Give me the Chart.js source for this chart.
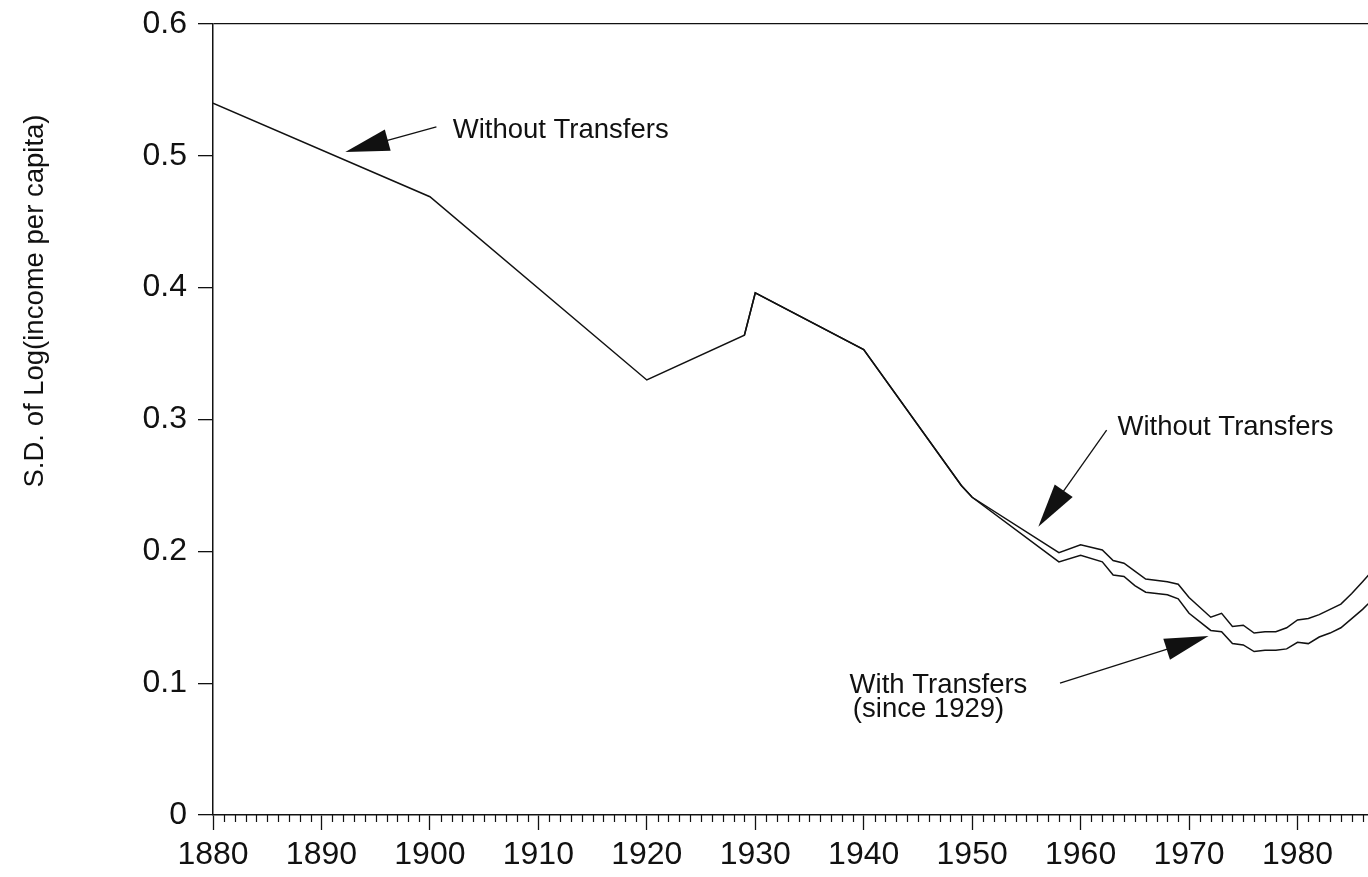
<!DOCTYPE html>
<html>
<head>
<meta charset="utf-8">
<title>S.D. of Log(income per capita)</title>
<script src="https://cdn.jsdelivr.net/npm/chart.js@4.4.1/dist/chart.umd.min.js"></script>
<style>
  html, body { margin: 0; padding: 0; background: #fff; overflow: hidden; }
  #wrap { width: 1368px; height: 877px; }
</style>
</head>
<body>
<div id="wrap"><canvas id="chart" width="1368" height="877"></canvas></div>
<script>
// values
const withoutYears = [1880, 1900, 1920, 1929, 1930, 1940, 1949, 1950, 1958, 1960, 1962, 1963, 1964, 1965, 1966, 1968, 1969, 1970, 1972, 1973, 1974, 1975, 1976, 1977, 1978, 1979, 1980, 1981, 1982, 1983, 1984, 1985, 1986, 1987];
const withoutValues = [0.540, 0.469, 0.330, 0.364, 0.396, 0.353, 0.250, 0.241, 0.199, 0.205, 0.201, 0.193, 0.191, 0.185, 0.179, 0.177, 0.175, 0.165, 0.150, 0.153, 0.143, 0.144, 0.138, 0.139, 0.139, 0.142, 0.148, 0.149, 0.152, 0.156, 0.160, 0.168, 0.177, 0.186];
const withYears = [1929, 1930, 1940, 1949, 1950, 1958, 1960, 1962, 1963, 1964, 1965, 1966, 1968, 1969, 1970, 1972, 1973, 1974, 1975, 1976, 1977, 1978, 1979, 1980, 1981, 1982, 1983, 1984, 1985, 1986, 1987];
const withValues = [0.364, 0.396, 0.353, 0.250, 0.241, 0.192, 0.197, 0.192, 0.182, 0.181, 0.174, 0.169, 0.167, 0.164, 0.153, 0.140, 0.139, 0.130, 0.129, 0.124, 0.125, 0.125, 0.126, 0.131, 0.130, 0.135, 0.138, 0.142, 0.149, 0.156, 0.164];
const yTicks = [0, 0.1, 0.2, 0.3, 0.4, 0.5, 0.6];
const xLabelYears = [1880, 1890, 1900, 1910, 1920, 1930, 1940, 1950, 1960, 1970, 1980];

const yTitle = "S.D. of Log(income per capita)";
const notes = [
  { text: "Without Transfers", year: 1902.1, value: 0.5135 },
  { text: "Without Transfers", year: 1963.4, value: 0.2883 },
  { text: "With Transfers", year: 1938.7, value: 0.0925 },
  { text: "(since 1929)", year: 1939.0, value: 0.0745 },
];
const arrows = [
  { tipYear: 1892.2, tipValue: 0.503, tailYear: 1900.6, tailValue: 0.522 },
  { tipYear: 1956.1, tipValue: 0.2187, tailYear: 1962.4, tailValue: 0.292 },
  { tipYear: 1971.8, tipValue: 0.1358, tailYear: 1958.1, tailValue: 0.100 },
];

(function () {
  const INK = "#111";
  const FONT = '"Liberation Sans", Arial, Helvetica, sans-serif';

  function points(years, values) {
    return years.map((year, i) => ({ x: year, y: values[i] }));
  }

  function drawArrow(ctx, x0, y0, x1, y1) {
    // x0,y0 tip; x1,y1 tail end
    const len = Math.hypot(x1 - x0, y1 - y0);
    const ux = (x1 - x0) / len, uy = (y1 - y0) / len;
    const head = 44, half = 11;
    const bx = x0 + ux * head, by = y0 + uy * head;
    ctx.beginPath();
    ctx.moveTo(bx - ux * 4, by - uy * 4);
    ctx.lineTo(x1, y1);
    ctx.lineWidth = 1.3;
    ctx.stroke();
    ctx.beginPath();
    ctx.moveTo(x0, y0);
    ctx.lineTo(bx - uy * half, by + ux * half);
    ctx.lineTo(bx + uy * half, by - ux * half);
    ctx.closePath();
    ctx.fill();
  }

  const extras = {
    id: "extras",
    afterDraw(chart) {
      const { ctx, chartArea, scales: { x, y } } = chart;
      ctx.save();
      ctx.strokeStyle = INK;
      ctx.fillStyle = INK;

      // yearly minor ticks on the x axis
      ctx.lineWidth = 1.2;
      ctx.beginPath();
      for (let yr = 1881; yr <= x.max; yr++) {
        if (yr % 10 === 0) continue;
        const px = Math.round(x.getPixelForValue(yr)) + 0.5;
        ctx.moveTo(px, chartArea.bottom);
        ctx.lineTo(px, chartArea.bottom + 7);
      }
      ctx.stroke();

      ctx.font = "27.5px " + FONT;
      ctx.textAlign = "left";
      ctx.textBaseline = "alphabetic";
      notes.forEach((n) => ctx.fillText(n.text, x.getPixelForValue(n.year), y.getPixelForValue(n.value)));
      arrows.forEach((a) => drawArrow(ctx,
        x.getPixelForValue(a.tipYear), y.getPixelForValue(a.tipValue),
        x.getPixelForValue(a.tailYear), y.getPixelForValue(a.tailValue)));

      ctx.translate(35, 301);
      ctx.rotate(-Math.PI / 2);
      ctx.textAlign = "center";
      ctx.textBaseline = "middle";
      ctx.fillText(yTitle, 0, 0);
      ctx.restore();
    },
  };

  const line = (label, data) => ({
    label,
    data,
    borderColor: INK,
    borderWidth: 1.5,
    pointRadius: 0,
    tension: 0,
    fill: false,
  });

  new Chart(document.getElementById("chart"), {
    type: "line",
    data: {
      datasets: [
        line("Without Transfers", points(withoutYears, withoutValues)),
        line("With Transfers", points(withYears, withValues)),
      ],
    },
    options: {
      responsive: false,
      animation: false,
      layout: { padding: { top: 24, right: 0, left: 0, bottom: 0 } },
      plugins: { legend: { display: false }, tooltip: { enabled: false } },
      scales: {
        x: {
          type: "linear",
          min: 1880,
          max: 1986.5,
          afterBuildTicks: (s) => { s.ticks = xLabelYears.map((v) => ({ value: v })); },
          afterFit: (s) => { s.height = 62; s.paddingRight = 0; },
          border: { display: true, color: INK, width: 1.5 },
          grid: { drawOnChartArea: false, tickLength: 15, tickColor: INK, tickWidth: 1.3 },
          ticks: { color: INK, font: { family: FONT, size: 32 }, padding: 6, maxRotation: 0, callback: (v) => String(v) },
        },
        y: {
          min: 0,
          max: 0.6,
          afterBuildTicks: (s) => { s.ticks = yTicks.map((v) => ({ value: v })); },
          afterFit: (s) => { s.width = 213; s.paddingTop = 0; s.paddingBottom = 0; },
          border: { display: true, color: INK, width: 1.5 },
          grid: {
            color: (c) => (c.index === yTicks.length - 1 ? INK : "rgba(0,0,0,0)"),
            lineWidth: 1.3,
            tickLength: 15,
            tickColor: INK,
            tickWidth: 1.3,
          },
          ticks: { color: INK, font: { family: FONT, size: 32 }, padding: 11, callback: (v) => (v === 0 ? "0" : v.toFixed(1)) },
        },
      },
    },
    plugins: [extras],
  });
})();
</script>
</body>
</html>
